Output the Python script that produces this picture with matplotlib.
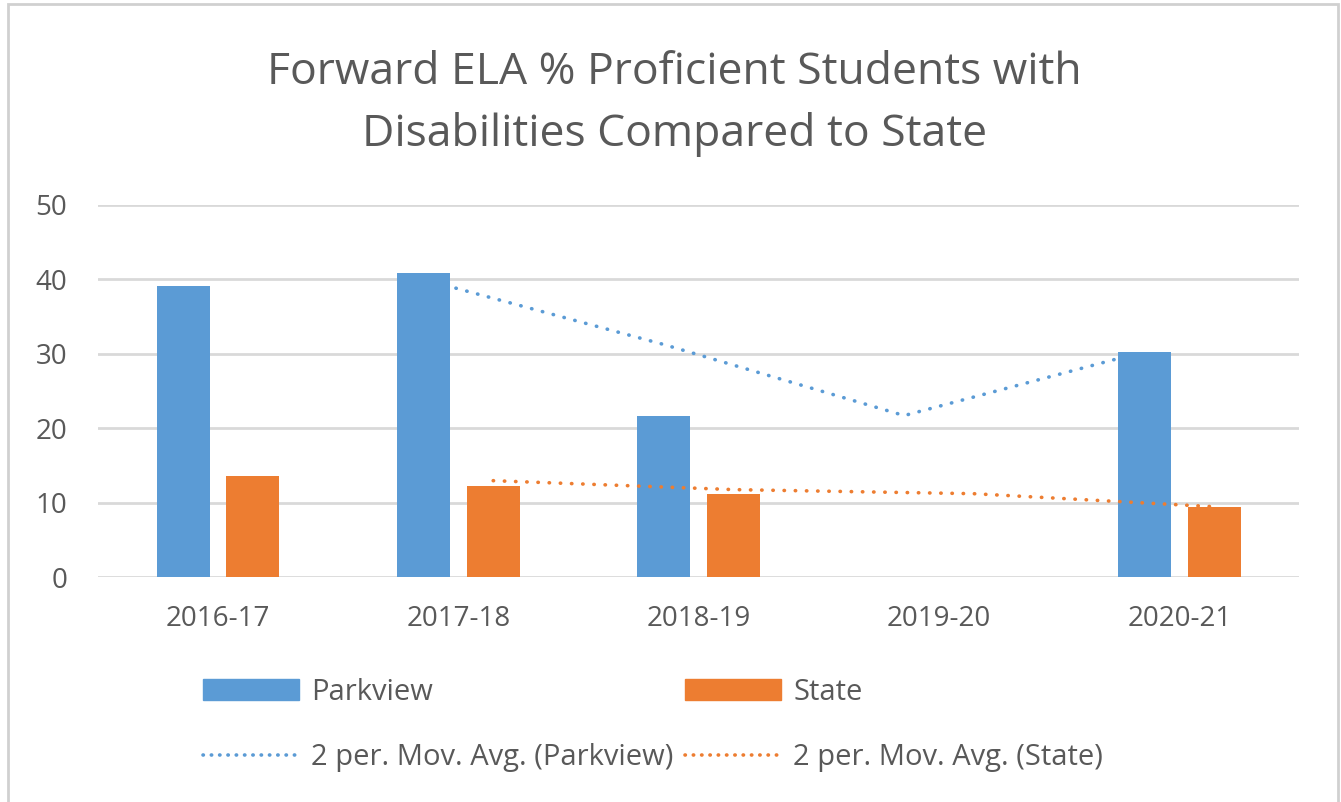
import numpy as np
import matplotlib.pyplot as plt
from matplotlib.patches import Rectangle, Patch
from matplotlib.lines import Line2D

# data
years = ['2016-17', '2017-18', '2018-19', '2019-20', '2020-21']
parkview = [39.15, 40.8, 21.7, np.nan, 30.3]
state = [13.6, 12.3, 11.2, np.nan, 9.45]
# 2 period moving averages (blank year skipped, as Excel does)
parkview_ma = [np.nan, 40.0, 31.25, 21.7, 30.3]
state_ma = [np.nan, 12.95, 11.75, 11.2, 9.45]

blue = '#5B9BD5'
orange = '#ED7D31'
grey = '#595959'

plt.rcParams['font.family'] = ['Open Sans', 'DejaVu Sans']

fig = plt.figure(figsize=(13.41, 8.02), dpi=100)
ax = fig.add_axes([0.073, 0.2805, 0.896, 0.4639])

x = np.arange(len(years))
w = 0.22
off = 0.145

ax.bar(x - off, parkview, w, color=blue, zorder=2)
ax.bar(x + off, state, w, color=orange, zorder=2)

dots = (0, (0.1, 3.0))
ax.plot(x - off, parkview_ma, color=blue, lw=2.6, ls=dots, dash_capstyle='round', zorder=3)
ax.plot(x + off, state_ma, color=orange, lw=2.6, ls=dots, dash_capstyle='round', zorder=3)

ax.set_xlim(-0.5, 4.5)
ax.set_ylim(0, 50)
ax.set_yticks(range(0, 51, 10))
ax.set_xticks(x)
ax.set_xticklabels(years)
ax.yaxis.grid(True, color='#D9D9D9', lw=2, zorder=0)
ax.set_axisbelow(True)
for s in ax.spines.values():
    s.set_visible(False)
ax.tick_params(length=0, labelsize=20, colors=grey)
ax.tick_params(axis='y', pad=22)
ax.tick_params(axis='x', pad=20)

fig.text(0.503, 0.871, 'Forward ELA % Proficient Students with\nDisabilities Compared to State',
         ha='center', va='center', fontsize=32, color=grey, linespacing=1.5)

hp = Patch(color=blue)
hs = Patch(color=orange)
lp = Line2D([], [], color=blue, lw=2.6, ls=(0, (0.1, 2.2)), dash_capstyle='round')
ls_ = Line2D([], [], color=orange, lw=2.6, ls=(0, (0.1, 2.2)), dash_capstyle='round')
fig.legend([hp, lp, hs, ls_],
           ['Parkview', '2 per. Mov. Avg. (Parkview)', 'State', '2 per. Mov. Avg. (State)'],
           ncol=2, loc='center', bbox_to_anchor=(0.487, 0.096), frameon=False,
           fontsize=21, labelcolor=grey, handlelength=3.3, handleheight=0.7,
           columnspacing=0.4, labelspacing=1.25, handletextpad=0.4)

# chart border
fig.patches.append(Rectangle((0.006, -0.01), 0.992, 1.005, transform=fig.transFigure,
                             fill=False, edgecolor='#D0D0D0', lw=2))

fig.savefig('out.png', dpi=100)
